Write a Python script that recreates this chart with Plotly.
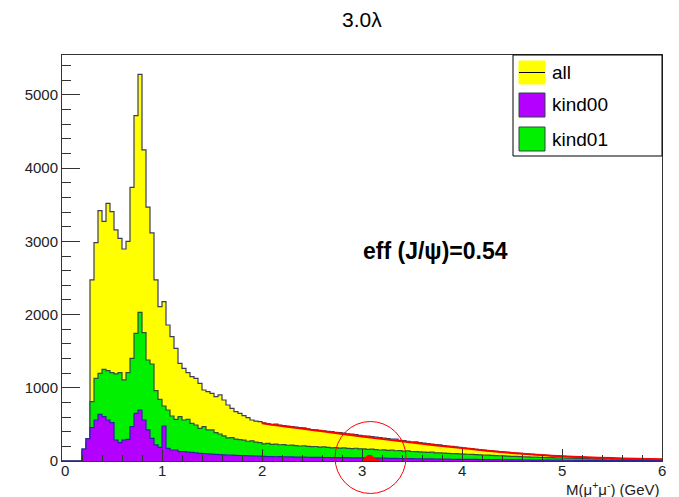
import numpy as np
import plotly.graph_objects as go

# ---------------- data ----------------
# 150 bins of 0.04 GeV from 0 to 6 GeV
bin_edges = np.linspace(0.0, 6.0, 151)

all_counts = [
    0, 0, 0, 0, 0, 164, 305, 2473, 2983, 3420,
    3274, 3520, 3406, 3156, 3042, 2896, 3000, 3739, 4718, 5282,
    4250, 3468, 3115, 2473, 2108, 2177, 1858, 1699, 1539, 1334,
    1266, 1207, 1152, 1129, 1061, 970, 947, 924, 879, 902,
    833, 765, 720, 674, 651, 619, 592, 560, 546, 537,
    520, 512, 498, 505, 490, 482, 478, 470, 462, 455,
    452, 440, 430, 425, 420, 412, 405, 402, 392, 388,
    380, 372, 366, 360, 350, 342, 340, 335, 325, 318,
    312, 305, 298, 300, 282, 278, 270, 258, 262, 250,
    243, 238, 230, 225, 220, 212, 205, 200, 192, 185,
    178, 172, 168, 160, 155, 150, 143, 138, 133, 128,
    122, 118, 112, 108, 104, 100, 95, 92, 88, 84,
    80, 77, 73, 70, 66, 63, 60, 57, 55, 52,
    50, 48, 45, 43, 41, 39, 37, 36, 34, 32,
    31, 30, 28, 27, 26, 25, 24, 23, 22, 21,
]

kind01_counts = [
    0, 0, 0, 0, 0, 120, 250, 810, 1129, 1198,
    1252, 1234, 1207, 1189, 1207, 1107, 1207, 1403, 1744, 2031,
    1754, 1380, 1325, 961, 842, 751, 697, 615, 569, 606,
    560, 569, 515, 492, 446, 469, 424, 424, 387, 369,
    342, 315, 320, 300, 292, 285, 270, 275, 258, 250,
    235, 240, 228, 230, 222, 225, 215, 218, 210, 205,
    208, 200, 196, 198, 190, 192, 185, 180, 184, 176,
    178, 172, 170, 174, 166, 165, 160, 162, 155, 150,
    152, 145, 148, 140, 142, 135, 138, 130, 128, 125,
    122, 118, 120, 112, 110, 108, 104, 102, 100, 97,
    95, 92, 90, 86, 84, 82, 79, 76, 74, 72,
    69, 67, 64, 62, 60, 58, 56, 54, 52, 50,
    48, 47, 45, 44, 42, 41, 39, 38, 36, 35,
    34, 33, 31, 30, 29, 28, 27, 26, 25, 24,
    23, 22, 21, 20, 19, 18, 18, 17, 16, 15,
]

kind00_counts = [
    0, 0, 0, 0, 0, 164, 305, 455, 560, 638,
    606, 560, 524, 287, 250, 287, 296, 469, 651, 697,
    560, 424, 310, 219, 187, 478, 173, 150, 150, 128,
    130, 120, 118, 110, 105, 100, 98, 95, 90, 88,
    85, 82, 80, 78, 75, 74, 72, 70, 68, 66,
    62, 60, 61, 58, 59, 57, 56, 55, 54, 53,
    52, 51, 50, 50, 49, 48, 48, 47, 46, 46,
    45, 45, 44, 44, 43, 43, 42, 41, 40, 39,
    38, 37, 36, 35, 34, 33, 32, 32, 31, 30,
    29, 28, 28, 27, 26, 26, 25, 24, 24, 23,
    23, 22, 21, 21, 20, 19, 19, 18, 18, 17,
    17, 16, 16, 15, 15, 14, 14, 13, 13, 12,
    12, 12, 11, 11, 11, 10, 10, 10, 9, 9,
    9, 9, 8, 8, 8, 8, 7, 7, 7, 7,
    6, 6, 6, 6, 5, 5, 5, 5, 5, 4,
]

# J/psi signal (red filled bins)
jpsi_edges = [3.02, 3.06, 3.10, 3.14, 3.18]
jpsi_counts = [30, 75, 70, 25]

# background fit curve (red line)
fit_x = [2.0, 2.25, 2.5, 2.75, 3.0, 3.25, 3.5, 3.75, 4.0, 4.25, 4.5,
         4.75, 5.0, 5.25, 5.5, 5.75, 6.0]
fit_y = [515, 468, 425, 378, 335, 292, 252, 212, 176, 140, 110,
         85, 64, 50, 40, 30, 23]

x_ticks = [0, 1, 2, 3, 4, 5, 6]
x_tick_labels = ["0", "1", "2", "3", "4", "5", "6"]
y_ticks = [0, 1000, 2000, 3000, 4000, 5000]

legend_names = ["all", "kind00", "kind01"]

title_text = "3.0λ"
eff_text = "eff (J/ψ)=0.54"
xlabel_text = "M(μ<sup>+</sup>μ<sup>-</sup>) (GeV)"

# ---------------- styles ----------------
YELLOW = "#FFFF00"
PURPLE = "#B400FF"
GREEN = "#00F000"
RED = "#FF0000"
FONT = "Liberation Sans, Arial, sans-serif"


def step_xy(edges, counts):
    xs = list(edges)
    ys = list(counts) + [counts[-1]]
    return xs, ys


fig = go.Figure()

for counts, fillc, linec in [
    (all_counts, YELLOW, "#3c3c5c"),
    (kind01_counts, GREEN, "#2f4f3f"),
    (kind00_counts, PURPLE, "#2828a0"),
]:
    xs, ys = step_xy(bin_edges, counts)
    fig.add_trace(go.Scatter(
        x=xs, y=ys, mode="lines", line=dict(shape="hv", color=linec, width=1.2),
        fill="tozeroy", fillcolor=fillc, showlegend=False, hoverinfo="skip"))

xs, ys = step_xy(jpsi_edges, jpsi_counts)
fig.add_trace(go.Scatter(
    x=xs, y=ys, mode="lines", line=dict(shape="spline", color=RED, width=1),
    fill="tozeroy", fillcolor=RED, showlegend=False, hoverinfo="skip"))

fig.add_trace(go.Scatter(
    x=fit_x, y=fit_y, mode="lines", line=dict(shape="spline", color=RED, width=2),
    showlegend=False, hoverinfo="skip"))

# plot area pixel geometry
L, R, T, B = 62, 662, 55, 461
W, H = 679, 497


def px(xp):
    return (xp - L) / (R - L)


def py(yp):
    return (B - yp) / (B - T)


shapes = []
annotations = []

# legend box
shapes.append(dict(type="rect", xref="paper", yref="paper",
                   x0=px(513), x1=px(662), y0=py(156), y1=py(55),
                   line=dict(color="black", width=1), fillcolor="white"))
sw = [(61, 84, YELLOW), (93, 117, PURPLE), (127, 151, GREEN)]
for (ya, yb, c), name in zip(sw, legend_names):
    shapes.append(dict(type="rect", xref="paper", yref="paper",
                       x0=px(519), x1=px(545), y0=py(yb), y1=py(ya),
                       line=dict(color="#2a4a3a" if c != YELLOW else YELLOW, width=1),
                       fillcolor=c))
    annotations.append(dict(text=name, xref="paper", yref="paper",
                            x=px(550), y=py((ya + yb) / 2), xanchor="left",
                            yanchor="middle", showarrow=False,
                            font=dict(family=FONT, size=19, color="black")))
# line through the "all" swatch
shapes.append(dict(type="line", xref="paper", yref="paper",
                   x0=px(519), x1=px(545), y0=py(72.5), y1=py(72.5),
                   line=dict(color="black", width=1)))

# red circle around J/psi
shapes.append(dict(type="circle", xref="paper", yref="paper",
                   x0=px(335), x1=px(406), y0=py(493.5), y1=py(421.5),
                   line=dict(color=RED, width=1)))

annotations.append(dict(text=title_text, xref="paper", yref="paper",
                        x=px(362), y=py(20), xanchor="center", yanchor="middle",
                        showarrow=False,
                        font=dict(family=FONT, size=21, color="black")))
annotations.append(dict(text="<b>" + eff_text + "</b>", xref="paper", yref="paper",
                        x=px(361), y=py(251), xanchor="left", yanchor="middle",
                        showarrow=False,
                        font=dict(family=FONT, size=23, color="black")))
annotations.append(dict(text=xlabel_text, xref="paper", yref="paper",
                        x=px(662), y=py(488), xanchor="right", yanchor="middle",
                        showarrow=False,
                        font=dict(family=FONT, size=15, color="#222")))
for xv, lab in zip(x_ticks, x_tick_labels):
    annotations.append(dict(text=lab, xref="x", yref="paper",
                            x=xv + (0.03 if xv == 0 else 0), y=py(470),
                            xanchor="center", yanchor="middle", showarrow=False,
                            font=dict(family=FONT, size=15, color="#222")))

fig.update_layout(
    width=W, height=H,
    margin=dict(l=L, r=W - R, t=T, b=H - B),
    paper_bgcolor="white", plot_bgcolor="white",
    showlegend=False,
    shapes=shapes, annotations=annotations,
    xaxis=dict(range=[0, 6], tickvals=x_ticks, ticks="inside", ticklen=12,
               tickcolor="#333", showline=True, mirror=True, linecolor="#333",
               linewidth=1, showgrid=False, zeroline=False, showticklabels=False,
               minor=dict(ticks="inside", ticklen=6, dtick=0.2, tickcolor="#333",
                          showgrid=False)),
    yaxis=dict(range=[0, 5546], tickvals=y_ticks, ticks="inside", ticklen=18,
               tickcolor="#333", showline=True, mirror=True, linecolor="#333",
               linewidth=1, showgrid=False, zeroline=False,
               tickfont=dict(family=FONT, size=15, color="#222"),
               minor=dict(ticks="inside", ticklen=9, dtick=200, tickcolor="#333",
                          showgrid=False)),
)

fig.write_html("out.html")
